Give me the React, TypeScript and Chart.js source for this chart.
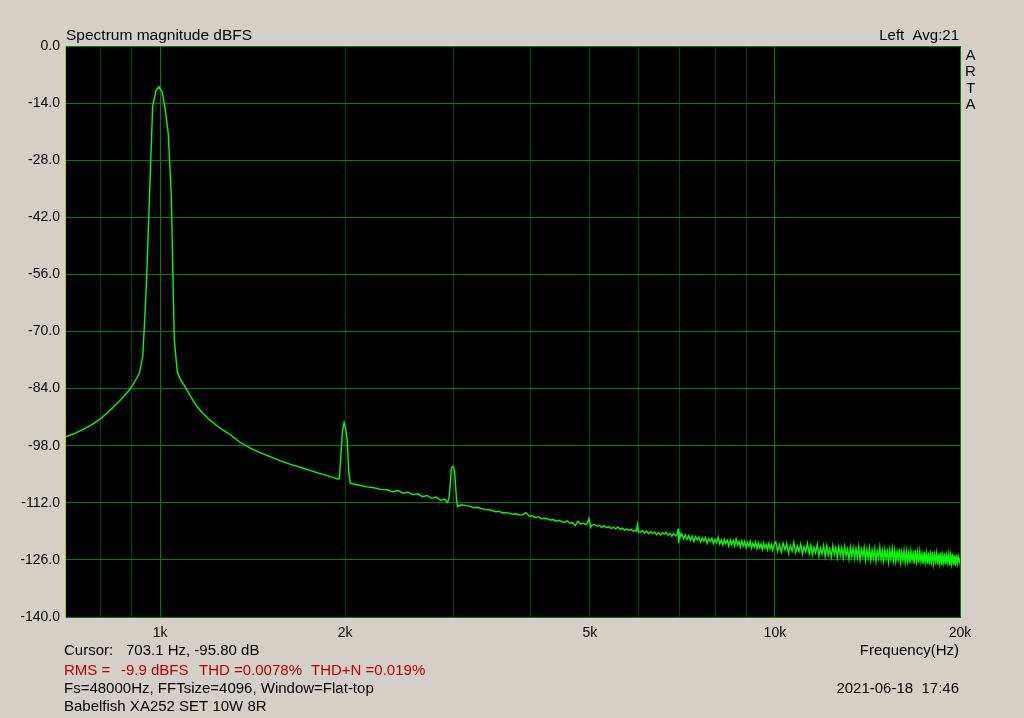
import React, { useEffect, useRef } from "react";
import { Chart, registerables } from "chart.js";

Chart.register(...registerables);

// ---- measurement metadata ----
const FS = 48000;
const FFT_SIZE = 4096;
const CURSOR_HZ = 703.1;
const CURSOR_DB = -95.8;
const TITLE = "Spectrum magnitude dBFS";
const CHANNEL_INFO = "Left  Avg:21";
const BRAND_LETTERS = ["A", "R", "T", "A"];
const X_AXIS_TITLE = "Frequency(Hz)";
const RMS_PARTS = ["RMS =", "-9.9 dBFS", "THD =0.0078%", "THD+N =0.019%"];
const SETUP_LINE = "Fs=48000Hz, FFTsize=4096, Window=Flat-top";
const DATE_LINE = "2021-06-18  17:46";
const DEVICE_LINE = "Babelfish XA252 SET 10W 8R";

// ---- axes ----
const X_MIN_BIN = 60;
const X_MAX_HZ = 20000;
const Y_MIN = -140;
const Y_MAX = 0;
const Y_STEP = 14;
const gridFreqs = [800, 900, 1000, 2000, 3000, 4000, 5000, 6000, 7000, 8000, 9000, 10000, 20000];
const majorGridFreqs = [1000, 10000];
const xLabelFreqs = [1000, 2000, 5000, 10000, 20000];
const xLabelTexts = ["1k", "2k", "5k", "10k", "20k"];

// ---- spectrum (FFT bin index -> dBFS) ----
const binsFundamental = [60, 62, 64, 66, 68, 70, 72, 74, 76, 77, 78, 79, 80, 81, 82, 83, 84, 85, 86, 87, 88, 89, 90, 91, 92, 94, 96, 98, 100, 103, 106, 110, 115, 120, 125, 130, 135, 140, 145, 150, 155, 160, 164, 166];
const levelsFundamental = [-95.8, -95.0, -94.0, -92.9, -91.6, -90.0, -88.2, -86.4, -84.4, -83.2, -81.7, -80.2, -76.0, -60.0, -37.5, -14.8, -11.0, -10.0, -11.2, -15.5, -21.5, -36.5, -72.0, -79.8, -81.6, -83.9, -86.3, -88.4, -89.9, -91.8, -93.3, -94.9, -97.1, -98.7, -99.9, -100.9, -101.9, -102.7, -103.4, -104.1, -104.8, -105.4, -105.9, -106.2];

const binsH2H3 = [167, 168, 169, 170, 171, 172, 173, 174, 176, 180, 185, 190, 195, 200, 204, 208, 212, 216, 220, 224, 228, 232, 236, 240, 244, 248, 250, 251, 252, 253, 254, 255, 256, 257, 258, 259, 260];
const levelsH2H3 = [-106.0, -100.5, -94.3, -92.4, -93.8, -96.6, -104.5, -107.2, -107.4, -107.7, -108.1, -108.3, -108.7, -108.8, -109.3, -109.0, -109.6, -109.4, -110.0, -109.8, -110.5, -110.2, -110.9, -110.6, -111.4, -111.1, -111.9, -111.5, -110.6, -107.3, -103.8, -103.1, -103.2, -104.2, -107.5, -111.2, -112.9];

const binsMidBand = [264, 268, 272, 276, 280, 284, 288, 292, 296, 300, 304, 308, 312, 316, 320, 324, 328, 332, 336, 340, 344, 348, 352, 356, 360, 364, 368, 372, 376, 380, 384, 388, 392, 396, 400, 404, 408, 412, 416, 420,
  422, 424, 425, 426, 428,
  430, 434, 438, 442, 446, 450, 454, 458, 462, 466, 470, 474, 478, 482, 486, 490, 494, 498, 502, 506,
  508, 510, 512,
  516, 520, 524, 528, 532, 536, 540, 544, 548, 552, 556, 560, 564, 568, 572, 576, 580, 584, 588, 592,
  594, 595, 596, 598];
const levelsMidBand = [-112.5, -112.7, -112.8, -113.2, -113.1, -113.4, -113.6, -113.7, -113.9, -114.2, -114.1, -114.5, -114.4, -114.6, -114.8, -114.7, -115.0, -114.9, -114.4, -115.3, -115.2, -115.6, -115.4, -115.9, -115.8, -115.9, -116.2, -116.1, -116.5, -116.3, -116.6, -116.8, -116.4, -117.0, -116.9, -117.6, -116.5, -117.2, -117.0, -117.3,
  -117.2, -116.4, -115.6, -116.5, -118.0,
  -117.5, -117.3, -117.7, -117.5, -118.0, -117.6, -118.1, -117.9, -118.3, -118.0, -118.4, -117.9, -118.5, -118.2, -118.7, -118.4, -118.8, -118.5, -119.0, -118.7,
  -118.9, -117.3, -119.2,
  -119.2, -118.8, -119.4, -119.0, -119.6, -119.1, -119.5, -119.2, -119.8, -119.3, -119.9, -119.4, -119.7, -119.2, -120.0, -119.5, -120.2, -119.6, -120.1, -119.7,
  -118.3, -121.9, -119.2, -120.6];

const binsHighBand = [602, 606, 610, 614, 618, 622, 626, 630, 634, 638,
  642, 646, 650, 654, 658, 662, 666, 670, 674, 678,
  682, 686, 690, 694, 698, 702, 706, 710, 714, 718,
  722, 726, 730, 734, 738, 742, 746, 750, 754, 758,
  762, 766, 770, 774, 778, 782, 786, 790, 794, 798,
  802, 806, 810, 814, 818, 822, 826, 830, 834, 838,
  842, 846, 850];
const levelsHighBand = [-119.6, -120.8, -119.9, -121.0, -120.0, -121.2, -120.2, -121.5, -120.3, -121.1,
  -120.4, -121.6, -120.6, -121.4, -120.5, -121.9, -120.8, -121.5, -120.7, -122.0,
  -121.0, -121.8, -120.4, -122.1, -121.1, -122.3, -121.0, -122.0, -121.2, -122.6,
  -121.1, -122.2, -121.3, -122.5, -120.9, -122.4, -121.5, -122.8, -121.4, -122.6,
  -121.5, -123.0, -121.7, -122.7, -121.5, -123.1, -121.9, -122.8, -121.6, -123.2,
  -121.8, -123.0, -122.1, -123.4, -121.9, -123.1, -122.2, -123.5, -122.0, -123.3,
  -122.3, -123.6, -122.4];

const binsTopBand = [856, 862, 868, 874, 880, 886, 892, 898, 904, 910,
  916, 922, 928, 934, 940, 946, 952, 958, 964, 970,
  976, 982, 988, 994, 1000, 1006, 1012, 1018, 1024, 1030,
  1036, 1042, 1048, 1054, 1060, 1066, 1072, 1078, 1084, 1090,
  1096, 1102, 1108, 1114, 1120, 1126, 1132, 1138, 1144, 1150,
  1156, 1162, 1168, 1174, 1180, 1186, 1192, 1198, 1204, 1210,
  1216, 1222, 1228, 1234, 1240, 1246, 1252, 1258, 1264, 1270,
  1276, 1282, 1288, 1294, 1300, 1306, 1312, 1318, 1324, 1330,
  1336, 1342, 1348, 1354, 1360, 1366, 1372, 1378, 1384, 1390,
  1396, 1402, 1408, 1414, 1420, 1426, 1432, 1438, 1444, 1450,
  1456, 1462, 1468, 1474, 1480, 1486, 1492, 1498, 1504, 1510,
  1516, 1522, 1528, 1534, 1540, 1546, 1552, 1558, 1564, 1570,
  1576, 1582, 1588, 1594, 1600, 1606, 1612, 1618, 1624, 1630,
  1636, 1642, 1648, 1654, 1660, 1666, 1672, 1678, 1684, 1690,
  1696, 1702, 1707];
const levelsTopBand = [-121.6, -123.9, -122.3, -124.1, -121.9, -123.5, -122.0, -124.4, -122.5, -123.8,
  -121.7, -124.2, -122.6, -123.9, -122.1, -124.6, -122.8, -124.0, -121.9, -124.5,
  -122.4, -124.8, -122.9, -124.3, -122.2, -125.0, -123.1, -124.6, -122.5, -125.1,
  -122.6, -124.9, -123.3, -125.3, -122.5, -124.7, -123.0, -125.4, -122.8, -124.9,
  -123.0, -125.5, -122.7, -125.0, -123.4, -125.8, -122.9, -125.2, -123.1, -125.6,
  -123.2, -125.4, -122.8, -125.9, -123.5, -125.1, -123.0, -126.0, -123.4, -125.5,
  -123.1, -126.1, -123.6, -125.6, -123.3, -126.3, -123.8, -125.4, -122.9, -125.9,
  -123.7, -126.2, -123.4, -125.7, -123.9, -126.5, -123.5, -125.8, -123.2, -126.1,
  -123.6, -126.4, -124.0, -125.9, -123.3, -126.6, -124.1, -126.0, -123.7, -126.5,
  -123.9, -126.3, -124.2, -126.8, -123.8, -126.1, -124.4, -126.9, -123.6, -126.4,
  -124.1, -126.7, -123.9, -126.3, -124.5, -127.0, -124.0, -126.6, -124.3, -126.9,
  -124.2, -127.1, -124.6, -126.5, -124.0, -126.9, -124.7, -126.4, -124.3, -127.2,
  -124.5, -126.8, -124.2, -127.3, -124.8, -126.7, -124.4, -127.1, -124.9, -126.6,
  -124.6, -127.4, -124.9, -126.9, -124.5, -127.2, -125.0, -127.5, -124.7, -126.8,
  -125.2, -126.6, -125.6];

// ---- style ----
const BG = "#D4D0C8";
const PLOT_BG = "#000000";
const TRACE = "#00FF00";
const H_GRID = "#008000";
const V_GRID_MINOR = "#004800";
const V_GRID_MAJOR = "#008000";
const FRAME = "#008000";
const CURSOR_COLOR = "#C8C800";
const RED = "#C00000";
const FONT = '"Liberation Sans", Arial, sans-serif';

const BIN_HZ = FS / FFT_SIZE;

const framePlugin = {
  id: "artaFrame",
  beforeDraw(chart: any) {
    const { ctx, chartArea: a, width, height } = chart;
    ctx.save();
    ctx.fillStyle = BG;
    ctx.fillRect(0, 0, width, height);
    ctx.fillStyle = PLOT_BG;
    ctx.fillRect(a.left, a.top, a.right - a.left, a.bottom - a.top);
    ctx.restore();
  },
  afterDraw(chart: any) {
    const { ctx, chartArea: a } = chart;
    const xs = chart.scales.x;
    ctx.save();
    ctx.lineWidth = 1;
    ctx.strokeStyle = FRAME;
    ctx.strokeRect(a.left - 0.5, a.top + 0.5, a.right - a.left + 1, a.bottom - a.top);
    const cx = Math.round(xs.getPixelForValue(CURSOR_HZ)) - 0.5;
    ctx.strokeStyle = CURSOR_COLOR;
    ctx.beginPath();
    ctx.moveTo(cx, a.top);
    ctx.lineTo(cx, a.bottom + 1);
    ctx.stroke();

    ctx.fillStyle = "#000";
    ctx.textBaseline = "alphabetic";
    ctx.textAlign = "left";
    ctx.font = `15.5px ${FONT}`;
    ctx.fillText(TITLE, 66, 39.5);
    ctx.font = `15px ${FONT}`;
    ctx.textAlign = "right";
    ctx.fillText(CHANNEL_INFO, 959, 39.5);
    ctx.textAlign = "center";
    BRAND_LETTERS.forEach((ch, i) => ctx.fillText(ch, 970.5, 60 + i * 16.3));

    ctx.textAlign = "left";
    ctx.fillText("Cursor:", 64, 655);
    ctx.fillText(`${CURSOR_HZ.toFixed(1)} Hz, ${CURSOR_DB.toFixed(2)} dB`, 126, 655);
    ctx.textAlign = "right";
    ctx.fillText(X_AXIS_TITLE, 959, 655);

    ctx.textAlign = "left";
    ctx.fillStyle = RED;
    const rmsX = [64, 121, 199, 311];
    RMS_PARTS.forEach((t, i) => ctx.fillText(t, rmsX[i], 674.5));

    ctx.fillStyle = "#000";
    ctx.fillText(SETUP_LINE, 64, 693);
    ctx.textAlign = "right";
    ctx.fillText(DATE_LINE, 959, 693);
    ctx.textAlign = "left";
    ctx.fillText(DEVICE_LINE, 64, 710.5);
    ctx.restore();
  },
};

export default function App() {
  const canvasRef = useRef<HTMLCanvasElement | null>(null);

  useEffect(() => {
    const canvas = canvasRef.current;
    if (!canvas) return;
    const allBins = [...binsFundamental, ...binsH2H3, ...binsMidBand, ...binsHighBand, ...binsTopBand];
    const allLevels = [...levelsFundamental, ...levelsH2H3, ...levelsMidBand, ...levelsHighBand, ...levelsTopBand];
    const points = allBins.map((b, i) => ({ x: b * BIN_HZ, y: allLevels[i] }));

    const chart = new Chart(canvas, {
      type: "line",
      data: {
        datasets: [
          {
            data: points,
            borderColor: TRACE,
            borderWidth: 1.4,
            pointRadius: 0,
            tension: 0,
            fill: false,
          },
        ],
      },
      options: {
        animation: false,
        responsive: false,
        events: [],
        layout: { padding: { left: 0, right: 64, top: 46, bottom: 0 } },
        plugins: { legend: { display: false }, tooltip: { enabled: false }, title: { display: false } },
        scales: {
          x: {
            type: "logarithmic",
            min: X_MIN_BIN * BIN_HZ,
            max: X_MAX_HZ,
            afterBuildTicks: (scale: any) => {
              scale.ticks = gridFreqs.map((v) => ({ value: v }));
            },
            afterFit: (scale: any) => {
              scale.height = 101;
            },
            border: { display: false },
            grid: {
              drawTicks: false,
              lineWidth: 1,
              color: (c: any) =>
                majorGridFreqs.includes(c.tick?.value) ? V_GRID_MAJOR : V_GRID_MINOR,
            },
            ticks: {
              autoSkip: false,
              maxRotation: 0,
              minRotation: 0,
              padding: 8,
              color: "#000",
              font: { family: FONT, size: 14 },
              callback: (v: any) => {
                const idx = xLabelFreqs.indexOf(Number(v));
                return idx >= 0 ? xLabelTexts[idx] : "";
              },
            },
          },
          y: {
            type: "linear",
            min: Y_MIN,
            max: Y_MAX,
            afterFit: (scale: any) => {
              scale.width = 66;
            },
            border: { display: false },
            grid: { drawTicks: false, color: H_GRID, lineWidth: 1 },
            ticks: {
              stepSize: Y_STEP,
              padding: 6,
              color: "#000",
              font: { family: FONT, size: 14 },
              callback: (v: any) => (Math.abs(Number(v)) < 1e-9 ? "0.0" : Number(v).toFixed(1)),
            },
          },
        },
      },
      plugins: [framePlugin],
    } as any);

    return () => chart.destroy();
  }, []);

  return (
    <div style={{ position: "absolute", left: 0, top: 0, width: 1024, height: 718 }}>
      <canvas ref={canvasRef} width={1024} height={718} style={{ display: "block", width: 1024, height: 718 }} />
    </div>
  );
}
